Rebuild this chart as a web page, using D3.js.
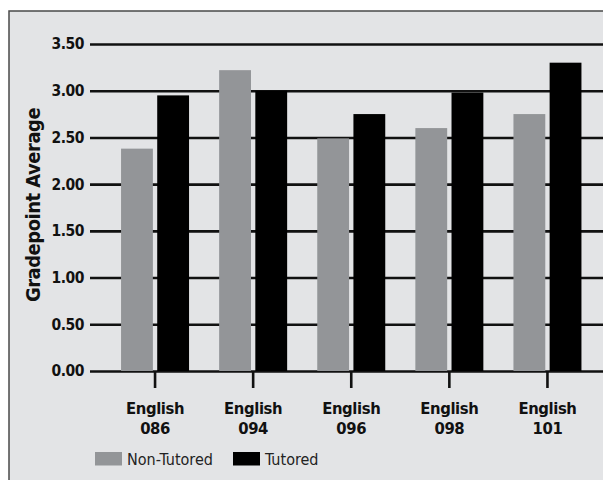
<!DOCTYPE html>
<html>
<head>
<meta charset="utf-8">
<script src="https://cdn.jsdelivr.net/npm/d3@7"></script>
<style>
  html, body { margin: 0; padding: 0; background: #ffffff; }
  svg { display: block; }
  .narrow { font-family: "Liberation Sans Narrow", "Arial Narrow", "DejaVu Sans Condensed", "Liberation Sans", sans-serif; }
</style>
</head>
<body>
<svg id="chart" width="603" height="480"></svg>
<script>
// Course categories and grade point averages by tutoring status
const courses = ["English\n086", "English\n094", "English\n096", "English\n098", "English\n101"];
const seriesNames = ["Non-Tutored", "Tutored"];
const nonTutored = [2.38, 3.22, 2.49, 2.60, 2.75];
const tutored = [2.95, 3.00, 2.75, 2.98, 3.30];
const yTicks = [0, 0.5, 1.0, 1.5, 2.0, 2.5, 3.0, 3.5];
const seriesColors = ["#939598", "#000000"];

const rows = courses.map((c, i) => ({ course: c, values: [nonTutored[i], tutored[i]] }));

const svg = d3.select("#chart");

// panel background with a thin frame
svg.append("rect")
  .attr("x", 9).attr("y", 11)
  .attr("width", 620).attr("height", 490)
  .attr("fill", "#e3e4e6")
  .attr("stroke", "#4a4a4a")
  .attr("stroke-width", 1.5);

const plot = { left: 90, right: 603, top: 44, bottom: 371 };

const y = d3.scaleLinear().domain([0, 3.5]).range([plot.bottom, plot.top]);
const x0 = d3.scaleBand().domain(courses).range([106, 596.5]).padding(0);
const x1 = d3.scaleBand().domain(seriesNames).range([-34, 34]).paddingInner(0.12);

// horizontal gridlines with value labels
const yAxis = d3.axisLeft(y)
  .tickValues(yTicks)
  .tickFormat(d3.format(".2f"))
  .tickSize(-(plot.right - plot.left))
  .tickPadding(6);

const yg = svg.append("g")
  .attr("transform", `translate(${plot.left},0)`)
  .call(yAxis);
yg.select(".domain").remove();
yg.selectAll(".tick line")
  .attr("stroke", "#111")
  .attr("stroke-width", 2.6);
yg.selectAll(".tick text")
  .attr("class", "narrow")
  .attr("font-size", 15.5)
  .attr("letter-spacing", -0.5)
  .attr("font-weight", "bold")
  .attr("fill", "#111");

// bars
const groups = svg.append("g")
  .selectAll("g")
  .data(rows)
  .join("g")
  .attr("transform", d => `translate(${x0(d.course) + x0.bandwidth() / 2},0)`);

groups.selectAll("rect")
  .data(d => d.values.map((v, i) => ({ key: seriesNames[i], value: v, i })))
  .join("rect")
  .attr("x", d => x1(d.key))
  .attr("width", x1.bandwidth())
  .attr("y", d => y(d.value))
  .attr("height", d => y(0) - y(d.value))
  .attr("fill", d => seriesColors[d.i]);

// category axis: ticks below the baseline and two-line labels
const xAxis = d3.axisBottom(x0).tickSize(17).tickSizeOuter(0).tickFormat("");
const xg = svg.append("g")
  .attr("transform", `translate(0,${plot.bottom})`)
  .call(xAxis);
xg.select(".domain").remove();
xg.selectAll(".tick line").attr("stroke", "#111").attr("stroke-width", 2.6);

const labels = svg.append("g")
  .selectAll("text")
  .data(courses)
  .join("text")
  .attr("class", "narrow")
  .attr("text-anchor", "middle")
  .attr("font-size", 16.5)
  .attr("letter-spacing", -0.4)
  .attr("font-weight", "bold")
  .attr("fill", "#111")
  .attr("transform", d => `translate(${x0(d) + x0.bandwidth() / 2},413.5)`);

labels.selectAll("tspan")
  .data(d => d.split("\n"))
  .join("tspan")
  .attr("x", 0)
  .attr("dy", (d, i) => i === 0 ? 0 : 20.7)
  .text(d => d);

// y axis title
svg.append("text")
  .attr("class", "narrow")
  .attr("transform", "translate(39.5,205) rotate(-90)")
  .attr("text-anchor", "middle")
  .attr("font-size", 20)
  .attr("letter-spacing", -0.5)
  .attr("font-weight", "bold")
  .attr("fill", "#111")
  .text("Gradepoint Average");

// legend
const legendItems = [
  { name: seriesNames[0], color: seriesColors[0], x: 95 },
  { name: seriesNames[1], color: seriesColors[1], x: 233 }
];
const lg = svg.append("g").selectAll("g")
  .data(legendItems)
  .join("g")
  .attr("transform", d => `translate(${d.x},452)`);
lg.append("rect")
  .attr("width", 27).attr("height", 13.5)
  .attr("fill", d => d.color);
lg.append("text")
  .attr("class", "narrow")
  .attr("x", 32)
  .attr("y", 13.3)
  .attr("font-size", 16)
  .attr("fill", "#222")
  .text(d => d.name);
</script>
</body>
</html>
